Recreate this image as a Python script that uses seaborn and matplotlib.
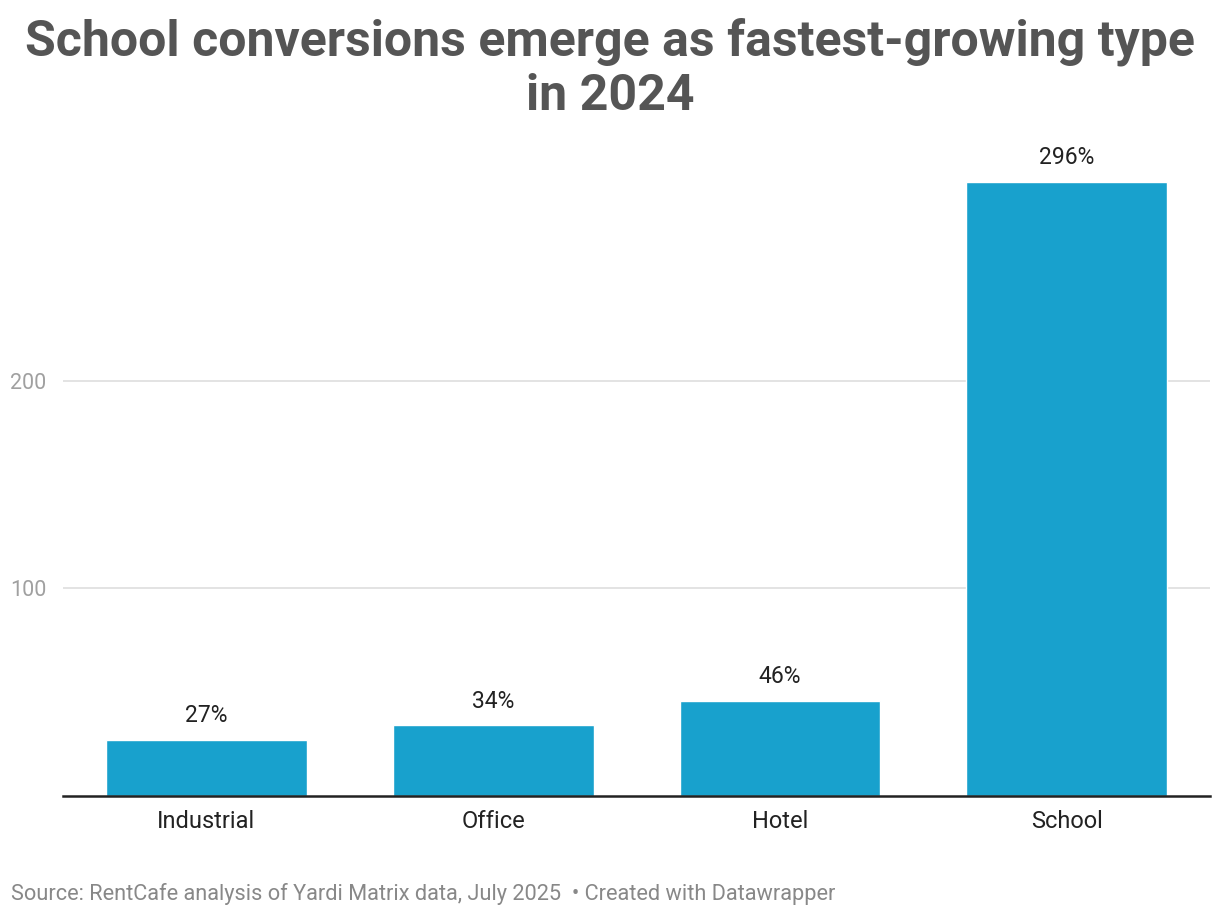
import pandas as pd
import seaborn as sns
import matplotlib.pyplot as plt

# Conversion growth by former building type, 2024
types = ["Industrial", "Office", "Hotel", "School"]
growth = [27, 34, 46, 296]
value_labels = ["27%", "34%", "46%", "296%"]

df = pd.DataFrame({"Type": types, "Growth": growth})

sns.set_theme(style="white")
plt.rcParams['font.family'] = ['Roboto', 'DejaVu Sans']

fig = plt.figure(figsize=(12.2, 9.16), dpi=100)
ax = fig.add_axes([0.0516, 0.131, 0.9404, 0.6796])

sns.barplot(data=df, x="Type", y="Growth", color="#18a1cd", width=0.7,
            saturation=1, ax=ax, zorder=3)

ax.bar_label(ax.containers[0], labels=value_labels, padding=9,
             fontsize=16.5, color="#222222")

ax.set_ylim(0, 300)
ax.set_xlim(-0.5, 3.5)
ax.set_yticks([100, 200])
ax.yaxis.grid(True, color="#e0e0e0", linewidth=1.3, zorder=0)
ax.tick_params(axis="y", labelsize=15.5, labelcolor="#a0a0a0", length=0, pad=12)
ax.tick_params(axis="x", labelsize=17, labelcolor="#222222", length=0, pad=10)
ax.set_xlabel("")
ax.set_ylabel("")

for side in ["top", "right", "left"]:
    ax.spines[side].set_visible(False)
ax.spines["bottom"].set_color("#222222")
ax.spines["bottom"].set_linewidth(1.8)
ax.spines["bottom"].set_zorder(4)

fig.text(0.5, 0.869, "School conversions emerge as fastest-growing type\nin 2024",
         ha="center", va="bottom", fontsize=36, fontweight="bold",
         color="#555555", linespacing=1.2)

fig.text(0.009, 0.012, "Source: RentCafe analysis of Yardi Matrix data, July 2025  \u2022 Created with Datawrapper",
         ha="left", va="bottom", fontsize=15.7, color="#888888")

fig.savefig("out.png", dpi=100)
